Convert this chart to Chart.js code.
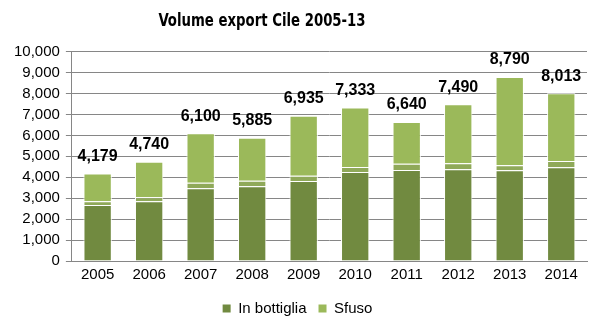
<!DOCTYPE html>
<html>
<head>
<meta charset="utf-8">
<script src="https://cdn.jsdelivr.net/npm/chart.js@4"></script>
<style>
  html, body { margin: 0; padding: 0; background: #fff; }
  #chart { display: block; }
</style>
</head>
<body>
<canvas id="chart" width="599" height="330"></canvas>
<script>
const years = ['2005', '2006', '2007', '2008', '2009', '2010', '2011', '2012', '2013', '2014'];
const bottiglia = [2680, 2850, 3470, 3570, 3820, 4250, 4340, 4380, 4330, 4480];
const intermedio = [170, 200, 270, 260, 250, 240, 300, 290, 240, 290];
const sfuso = [1329, 1690, 2360, 2055, 2865, 2843, 2000, 2820, 4220, 3243];
const totals = [4179, 4740, 6100, 5885, 6935, 7333, 6640, 7490, 8790, 8013];

const canvas = document.getElementById('chart');

// totals written above every stack
const totalLabels = {
  id: 'totalLabels',
  afterDatasetsDraw(chart) {
    const ctx = chart.ctx;
    const meta = chart.getDatasetMeta(2);
    ctx.save();
    ctx.font = 'bold 16px "Liberation Sans", Arial, sans-serif';
    ctx.fillStyle = '#000';
    ctx.textAlign = 'center';
    ctx.textBaseline = 'bottom';
    meta.data.forEach((bar, i) => {
      ctx.fillText(totals[i].toLocaleString('en-US'), bar.x, bar.y - 9);
    });
    ctx.restore();
  }
};

// title in a condensed face, drawn by hand (the built-in title only reserves the space)
const narrowTitle = {
  id: 'narrowTitle',
  afterDraw(chart) {
    const ctx = chart.ctx;
    ctx.save();
    ctx.font = 'bold 18px "DejaVu Sans", sans-serif';
    ctx.fontStretch = 'condensed';
    ctx.fillStyle = '#000';
    ctx.textAlign = 'center';
    ctx.textBaseline = 'middle';
    ctx.translate(262, 21);
    ctx.scale(0.82, 1);
    ctx.fillText('Volume export Cile 2005-13', 0, 0);
    ctx.restore();
  }
};

new Chart(canvas, {
  type: 'bar',
  data: {
    labels: years,
    datasets: [
      {
        label: 'In bottiglia',
        data: bottiglia,
        backgroundColor: '#718a40',
        borderColor: '#ffffff',
        borderWidth: 1
      },
      {
        label: 'altro',
        data: intermedio,
        backgroundColor: '#8fa959',
        borderColor: '#ffffff',
        borderWidth: 1
      },
      {
        label: 'Sfuso',
        data: sfuso,
        backgroundColor: '#9bb95a',
        borderColor: '#ffffff',
        borderWidth: 1
      }
    ]
  },
  options: {
    responsive: false,
    animation: false,
    layout: { padding: { left: 8, right: 12, top: 4, bottom: 4 } },
    datasets: {
      bar: { barPercentage: 0.55, categoryPercentage: 1 }
    },
    scales: {
      x: {
        stacked: true,
        grid: { display: false, drawTicks: false },
        border: { color: '#868686' },
        ticks: { color: '#000', font: { family: '"Liberation Sans", Arial', size: 15 }, padding: 5 }
      },
      y: {
        stacked: true,
        min: 0,
        max: 10000,
        grid: { color: '#868686', tickLength: 6, drawTicks: true },
        border: { color: '#868686' },
        ticks: {
          stepSize: 1000,
          autoSkip: false,
          color: '#000',
          padding: 6,
          font: { family: '"Liberation Sans", Arial', size: 15 },
          callback: v => v.toLocaleString('en-US')
        }
      }
    },
    plugins: {
      title: {
        display: true,
        text: 'Volume export Cile 2005-13',
        color: 'rgba(0,0,0,0)',
        font: { family: '"DejaVu Sans"', size: 18, weight: 'bold' },
        padding: { top: 6, bottom: 20 }
      },
      legend: {
        position: 'bottom',
        labels: {
          color: '#000',
          font: { family: '"Liberation Sans", Arial', size: 15 },
          boxWidth: 8,
          boxHeight: 8,
          padding: 12,
          filter: item => item.datasetIndex !== 1,
          generateLabels: chart => chart.data.datasets.map((ds, i) => ({
            text: ds.label,
            fillStyle: ds.backgroundColor,
            strokeStyle: ds.backgroundColor,
            lineWidth: 0,
            datasetIndex: i
          }))
        }
      },
      tooltip: { enabled: false }
    }
  },
  plugins: [totalLabels, narrowTitle]
});
</script>
</body>
</html>
